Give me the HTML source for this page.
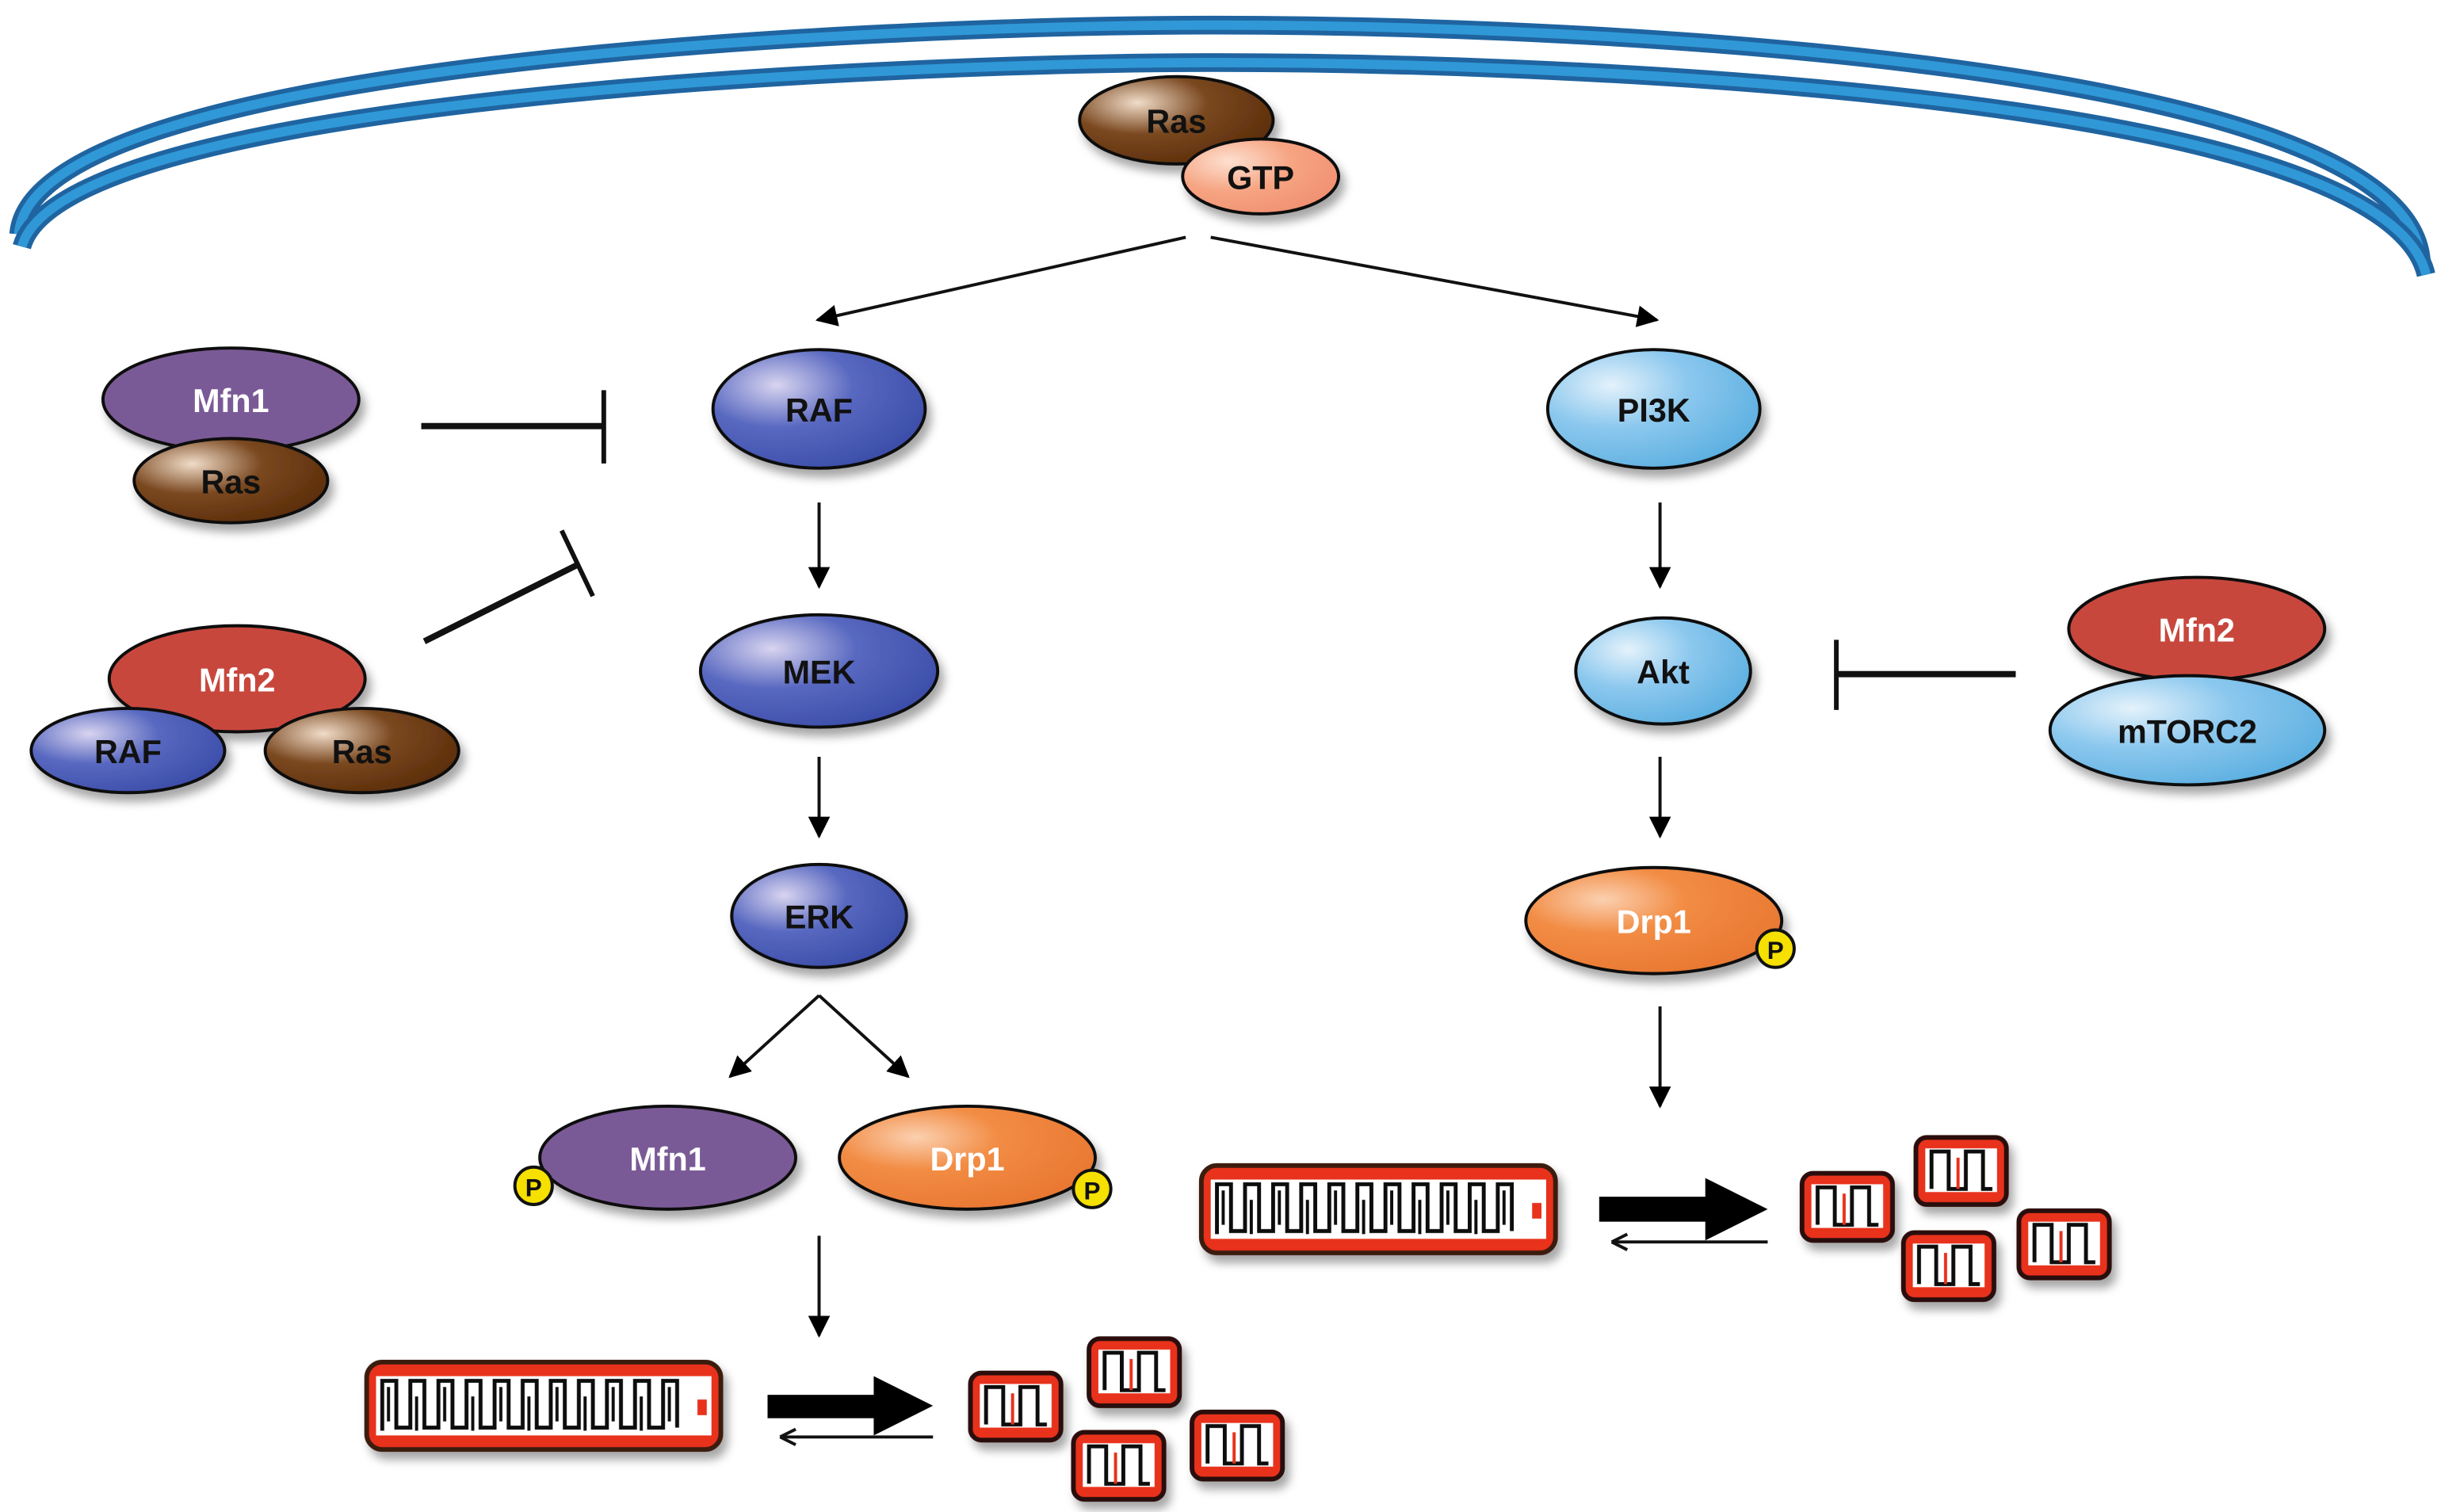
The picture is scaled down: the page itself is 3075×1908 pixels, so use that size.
<!DOCTYPE html>
<html><head><meta charset="utf-8"><style>
html,body{margin:0;padding:0;background:#fff;}
svg{display:block;}
text{font-family:"Liberation Sans Narrow","Liberation Sans",sans-serif;font-weight:bold;font-size:21px;text-anchor:middle;dominant-baseline:central;}
</style></head><body>
<svg width="3075" height="1908" viewBox="0 0 1562 969" xmlns="http://www.w3.org/2000/svg">
<defs>
<radialGradient id="gB" cx="0.3" cy="0.3" r="0.8"><stop offset="0" stop-color="#d8d4f0"/><stop offset="0.45" stop-color="#5868c0"/><stop offset="1" stop-color="#3a4ca8"/></radialGradient>
<radialGradient id="gL" cx="0.3" cy="0.3" r="0.8"><stop offset="0" stop-color="#e4f2fb"/><stop offset="0.45" stop-color="#8cc8ee"/><stop offset="1" stop-color="#5aaee0"/></radialGradient>
<radialGradient id="gR" cx="0.3" cy="0.3" r="0.8"><stop offset="0" stop-color="#f0dcc8"/><stop offset="0.45" stop-color="#7a4820"/><stop offset="1" stop-color="#5a2c08"/></radialGradient>
<radialGradient id="gO" cx="0.3" cy="0.3" r="0.8"><stop offset="0" stop-color="#fbd0b0"/><stop offset="0.4" stop-color="#f28c44"/><stop offset="1" stop-color="#e87630"/></radialGradient>
<radialGradient id="gS" cx="0.3" cy="0.3" r="0.8"><stop offset="0" stop-color="#fde0d0"/><stop offset="0.5" stop-color="#f6a482"/><stop offset="1" stop-color="#f09070"/></radialGradient>
<filter id="sh" x="-20%" y="-20%" width="150%" height="160%"><feDropShadow dx="3" dy="5" stdDeviation="3" flood-color="#000" flood-opacity="0.35"/></filter>
<marker id="ar" viewBox="0 0 10 10" refX="9" refY="5" markerWidth="7" markerHeight="7" orient="auto"><path d="M0,0 L10,5 L0,10 Z" fill="#000"/></marker>
<g id="longm">
<rect x="0" y="0" width="227" height="56" rx="10" fill="#e8301c" stroke="#3a1a10" stroke-width="3"/>
<rect x="6" y="9" width="215" height="38" fill="#fff"/>
<path d="M10,44 v-32 h9 v30 h9 v-30 h9 v30 h9 v-30 h9 v30 h9 v-30 h9 v30 h9 v-30 h9 v30 h9 v-30 h9 v30 h9 v-30 h9 v30 h9 v-30 h9 v30 h9 v-30 h9 v30 h9 v-30 h9 v30 h9 v-30 h9 v30" fill="none" stroke="#111" stroke-width="2.5"/>
<path d="M14,16 v22 M32,22 v22 M50,16 v22 M68,22 v22 M86,16 v22 M104,22 v22 M122,16 v22 M140,22 v22 M158,16 v22 M176,22 v22 M194,16 v22" stroke="#111" stroke-width="2"/>
<rect x="212" y="24" width="6" height="10" fill="#e8301c"/>
</g>
<g id="smallm">
<rect x="0" y="0" width="58" height="43" rx="7" fill="#e8301c" stroke="#2a1008" stroke-width="3"/>
<rect x="6" y="7" width="46" height="28" fill="#fff"/>
<path d="M10,33 v-24 h11 v24 h11 v-24 h11 v24 h6" fill="none" stroke="#111" stroke-width="2.5"/>
<path d="M27,13 v20" stroke="#e8301c" stroke-width="2"/>
</g>
</defs>

<g fill="none" stroke-linecap="butt">
<path d="M12,150 C 20,40 560,16 780,16 C 1020,16 1545,40 1552,168" stroke="#1f64a0" stroke-width="12"/>
<path d="M12,150 C 20,40 560,16 780,16 C 1020,16 1545,40 1552,168" stroke="#3098d6" stroke-width="6"/>
<path d="M14,158 C 40,62 580,40 780,40 C 1000,40 1528,60 1555,176" stroke="#1f64a0" stroke-width="12"/>
<path d="M14,158 C 40,62 580,40 780,40 C 1000,40 1528,60 1555,176" stroke="#3098d6" stroke-width="6"/>
</g>

<g stroke="#111" stroke-width="2" filter="url(#sh)">
<ellipse cx="754" cy="77" rx="62" ry="28" fill="url(#gR)"/>
<ellipse cx="808" cy="113" rx="50" ry="24" fill="url(#gS)"/>
<ellipse cx="525" cy="262" rx="68" ry="38" fill="url(#gB)"/>
<ellipse cx="1060" cy="262" rx="68" ry="38" fill="url(#gL)"/>
<ellipse cx="525" cy="430" rx="76" ry="36" fill="url(#gB)"/>
<ellipse cx="1066" cy="430" rx="56" ry="34" fill="url(#gL)"/>
<ellipse cx="525" cy="587" rx="56" ry="33" fill="url(#gB)"/>
<ellipse cx="1060" cy="590" rx="82" ry="34" fill="url(#gO)"/>
<ellipse cx="148" cy="256" rx="82" ry="33" fill="#7a5a96"/>
<ellipse cx="148" cy="308" rx="62" ry="27" fill="url(#gR)"/>
<ellipse cx="152" cy="435" rx="82" ry="34" fill="#c8463e"/>
<ellipse cx="82" cy="481" rx="62" ry="27" fill="url(#gB)"/>
<ellipse cx="232" cy="481" rx="62" ry="27" fill="url(#gR)"/>
<ellipse cx="1408" cy="403" rx="82" ry="33" fill="#c8463e"/>
<ellipse cx="1402" cy="468" rx="88" ry="35" fill="url(#gL)"/>
<ellipse cx="428" cy="742" rx="82" ry="33" fill="#7a5a96"/>
<ellipse cx="620" cy="742" rx="82" ry="33" fill="url(#gO)"/>
</g>
<g stroke="#111" stroke-width="2" fill="#f5e000">
<circle cx="1138" cy="608" r="12"/><circle cx="342" cy="760" r="12"/><circle cx="700" cy="762" r="12"/>
</g>
<g fill="#111"><text x="1138" y="609" style="font-size:16px">P</text><text x="342" y="761" style="font-size:16px">P</text><text x="700" y="763" style="font-size:16px">P</text></g>

<g fill="#111">
<text x="754" y="78">Ras</text><text x="808" y="114">GTP</text>
<text x="525" y="263">RAF</text><text x="1060" y="263">PI3K</text>
<text x="525" y="431">MEK</text><text x="1066" y="431">Akt</text>
<text x="525" y="588">ERK</text>
<text x="148" y="309">Ras</text><text x="82" y="482">RAF</text><text x="232" y="482">Ras</text>
<text x="1402" y="469">mTORC2</text>
</g>
<g fill="#fff">
<text x="1060" y="591">Drp1</text><text x="148" y="257">Mfn1</text><text x="152" y="436">Mfn2</text>
<text x="1408" y="404">Mfn2</text><text x="428" y="743">Mfn1</text><text x="620" y="743">Drp1</text>
</g>

<g stroke="#111" stroke-width="2" fill="none" marker-end="url(#ar)">
<line x1="760" y1="152" x2="524" y2="205"/>
<line x1="776" y1="152" x2="1062" y2="205"/>
<line x1="525" y1="322" x2="525" y2="376"/>
<line x1="525" y1="485" x2="525" y2="536"/>
<line x1="1064" y1="322" x2="1064" y2="376"/>
<line x1="1064" y1="485" x2="1064" y2="536"/>
<line x1="525" y1="638" x2="468" y2="690"/>
<line x1="525" y1="638" x2="582" y2="690"/>
<line x1="525" y1="792" x2="525" y2="856"/>
<line x1="1064" y1="645" x2="1064" y2="709"/>
</g>
<g stroke="#111" stroke-width="4" fill="none">
<line x1="270" y1="273" x2="387" y2="273"/><line x1="387" y1="250" x2="387" y2="297" stroke-width="3"/>
<line x1="272" y1="411" x2="370" y2="362"/><line x1="360" y1="340" x2="380" y2="382" stroke-width="3"/>
<line x1="1292" y1="432" x2="1177" y2="432"/><line x1="1177" y1="410" x2="1177" y2="455" stroke-width="3"/>
</g>

<g filter="url(#sh)">
<use href="#longm" x="235" y="873"/>
<use href="#longm" x="770" y="747"/>
<use href="#smallm" x="622" y="880"/>
<use href="#smallm" x="698" y="858"/>
<use href="#smallm" x="688" y="918"/>
<use href="#smallm" x="764" y="905"/>
<use href="#smallm" x="1155" y="752"/>
<use href="#smallm" x="1228" y="729"/>
<use href="#smallm" x="1220" y="790"/>
<use href="#smallm" x="1294" y="776"/>
</g>
<g fill="#000">
<path d="M492,894 H560 V882 L598,901 L560,920 V909 H492 Z"/>
<path d="M1025,767 H1093 V755 L1133,775 L1093,795 V783 H1025 Z"/>
</g>
<g stroke="#111" stroke-width="2">
<line x1="598" y1="921" x2="500" y2="921"/><path d="M500,921 l10,-5 M500,921 l10,5"/>
<line x1="1133" y1="796" x2="1033" y2="796"/><path d="M1033,796 l10,-5 M1033,796 l10,5"/>
</g>
</svg>
</body></html>
